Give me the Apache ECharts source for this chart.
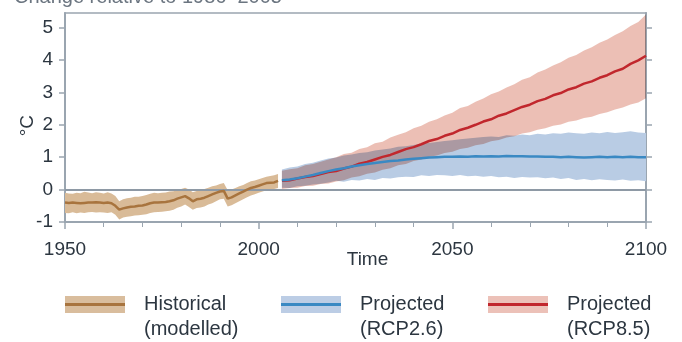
<!DOCTYPE html>
<html><head><meta charset="utf-8">
<script src="https://cdn.jsdelivr.net/npm/echarts@6/dist/echarts.min.js"></script>
<style>html,body{margin:0;padding:0;background:#fff}#c{width:682px;height:342px}</style>
</head><body><div id="c"></div>
<script>
const histYears = [1950,1951,1952,1953,1954,1955,1956,1957,1958,1959,1960,1961,1962,1963,1964,1965,1966,1967,1968,1969,1970,1971,1972,1973,1974,1975,1976,1977,1978,1979,1980,1981,1982,1983,1984,1985,1986,1987,1988,1989,1990,1991,1992,1993,1994,1995,1996,1997,1998,1999,2000,2001,2002,2003,2004,2005];
const histMean = [-0.40,-0.41,-0.40,-0.41,-0.42,-0.41,-0.40,-0.40,-0.39,-0.40,-0.41,-0.40,-0.42,-0.50,-0.62,-0.58,-0.55,-0.53,-0.52,-0.50,-0.49,-0.46,-0.42,-0.40,-0.40,-0.39,-0.38,-0.36,-0.33,-0.28,-0.24,-0.20,-0.27,-0.36,-0.30,-0.28,-0.25,-0.20,-0.15,-0.10,-0.06,-0.04,-0.28,-0.24,-0.18,-0.12,-0.06,0.00,0.05,0.08,0.12,0.16,0.20,0.21,0.22,0.27];
const histHigh = [-0.10,-0.12,-0.13,-0.10,-0.11,-0.07,-0.09,-0.11,-0.08,-0.10,-0.12,-0.08,-0.12,-0.20,-0.36,-0.30,-0.27,-0.25,-0.22,-0.22,-0.20,-0.17,-0.13,-0.10,-0.11,-0.10,-0.09,-0.06,-0.05,-0.02,0.02,0.06,0.00,-0.08,-0.04,-0.02,0.02,0.06,0.10,0.13,0.17,0.20,-0.02,0.00,0.05,0.10,0.14,0.20,0.26,0.28,0.32,0.36,0.40,0.42,0.44,0.48];
const histLow = [-0.72,-0.73,-0.70,-0.73,-0.71,-0.72,-0.70,-0.69,-0.71,-0.70,-0.71,-0.72,-0.70,-0.78,-0.92,-0.86,-0.84,-0.82,-0.80,-0.79,-0.78,-0.76,-0.72,-0.70,-0.69,-0.68,-0.67,-0.65,-0.62,-0.56,-0.52,-0.46,-0.54,-0.62,-0.57,-0.55,-0.52,-0.46,-0.42,-0.36,-0.30,-0.28,-0.52,-0.48,-0.42,-0.36,-0.30,-0.24,-0.18,-0.14,-0.10,-0.06,-0.02,0.00,0.02,0.05];

const projYears = [2006,2008,2010,2012,2014,2016,2018,2020,2022,2024,2026,2028,2030,2032,2034,2036,2038,2040,2042,2044,2046,2048,2050,2052,2054,2056,2058,2060,2062,2064,2066,2068,2070,2072,2074,2076,2078,2080,2082,2084,2086,2088,2090,2092,2094,2096,2098,2100];
const rcp26Mean = [0.29,0.31,0.35,0.40,0.45,0.51,0.57,0.62,0.66,0.71,0.75,0.79,0.82,0.85,0.88,0.90,0.93,0.95,0.97,0.99,1.00,1.01,1.01,1.02,1.01,1.03,1.02,1.03,1.02,1.04,1.03,1.03,1.02,1.02,1.01,1.01,1.00,1.01,1.00,0.99,1.00,1.01,1.00,1.01,1.00,1.01,1.00,1.00];
const rcp26High = [0.62,0.68,0.71,0.79,0.83,0.90,0.96,0.99,1.05,1.08,1.13,1.15,1.21,1.24,1.27,1.32,1.34,1.38,1.42,1.44,1.47,1.50,1.52,1.55,1.58,1.60,1.62,1.64,1.62,1.68,1.66,1.70,1.68,1.72,1.70,1.74,1.72,1.76,1.74,1.72,1.76,1.74,1.78,1.75,1.77,1.80,1.76,1.75];
const rcp26Low = [0.06,0.05,0.10,0.12,0.16,0.18,0.22,0.27,0.24,0.30,0.28,0.33,0.30,0.36,0.34,0.38,0.40,0.39,0.44,0.42,0.45,0.44,0.42,0.45,0.41,0.43,0.40,0.42,0.38,0.40,0.36,0.39,0.37,0.38,0.35,0.37,0.33,0.36,0.30,0.33,0.29,0.32,0.30,0.28,0.31,0.27,0.29,0.26];
const rcp85Mean = [0.27,0.29,0.34,0.39,0.42,0.48,0.54,0.57,0.65,0.71,0.80,0.85,0.93,1.01,1.07,1.16,1.25,1.31,1.40,1.50,1.56,1.66,1.73,1.84,1.91,2.00,2.10,2.17,2.28,2.35,2.45,2.55,2.62,2.73,2.80,2.91,2.98,3.09,3.16,3.27,3.34,3.45,3.53,3.65,3.73,3.88,3.99,4.13];
const rcp85High = [0.58,0.63,0.66,0.75,0.79,0.86,0.93,1.00,1.10,1.14,1.25,1.31,1.43,1.48,1.61,1.69,1.77,1.89,1.97,2.09,2.17,2.29,2.37,2.52,2.58,2.71,2.81,2.94,3.03,3.15,3.25,3.39,3.47,3.61,3.71,3.83,3.93,4.07,4.15,4.29,4.39,4.53,4.63,4.77,4.89,5.05,5.17,5.40];
const rcp85Low = [0.02,0.05,0.06,0.11,0.12,0.17,0.19,0.25,0.29,0.37,0.41,0.49,0.53,0.61,0.66,0.75,0.79,0.88,0.93,1.01,1.05,1.13,1.17,1.25,1.29,1.37,1.41,1.49,1.53,1.61,1.65,1.73,1.77,1.85,1.89,1.97,2.01,2.09,2.13,2.21,2.25,2.33,2.39,2.47,2.53,2.63,2.69,2.82];

const xTickValues = [1950,2000,2050,2100];
const yTickValues = [-1,0,1,2,3,4,5];
const titleText = 'Change relative to 1986–2005';
const legendItems = [
  {label: 'Historical\n(modelled)', band: '#d9bd9d', line: '#a8743e'},
  {label: 'Projected\n(RCP2.6)', band: '#bccde5', line: '#3a89c3'},
  {label: 'Projected\n(RCP8.5)', band: '#ecc1b8', line: '#c1272d'}
];

const FONT = "'Liberation Sans', Arial, sans-serif";
const AX = '#9aa5b0';
const TXT = '#2c3640';

function pairs(xs, ys) { return xs.map((x, i) => [x, ys[i]]); }
function bandSeries(name, xs, lo, hi, color, blend) {
  return {
    type: 'custom', name: name, silent: true, z: 2, blendMode: blend || 'source-over',
    data: xs.map((x, i) => [x, lo[i], hi[i]]),
    encode: {x: 0, y: [1, 2]},
    renderItem: function (params, api) {
      if (params.dataIndex !== 0) return null;
      const top = [], bot = [];
      for (let i = 0; i < xs.length; i++) {
        top.push(api.coord([xs[i], hi[i]]));
        bot.push(api.coord([xs[i], lo[i]]));
      }
      return {type: 'polygon', shape: {points: top.concat(bot.reverse())},
              style: {fill: color, stroke: null}};
    }
  };
}
function meanLine(name, xs, ys, color, extra) {
  return Object.assign({type: 'line', name: name, data: pairs(xs, ys), symbol: 'none',
    lineStyle: {color: color, width: 2.5}, silent: true, z: 6}, extra || {});
}

const chart = echarts.init(document.getElementById('c'), null, {renderer: 'canvas'});

const legendGraphics = [];
const legendX = [65, 281, 488];
legendItems.forEach((it, i) => {
  const x = legendX[i];
  legendGraphics.push({type: 'rect', left: x, top: 296, shape: {width: 60, height: 17}, style: {fill: it.band}, silent: true});
  legendGraphics.push({type: 'rect', left: x, top: 303, shape: {width: 60, height: 3}, style: {fill: it.line}, silent: true});
  legendGraphics.push({type: 'text', left: x + 79, top: 292, style: {text: it.label, font: '20px ' + FONT, fill: TXT, lineHeight: 25}, silent: true});
});

chart.setOption({
  backgroundColor: '#ffffff',
  animation: false,
  textStyle: {fontFamily: FONT},
  grid: {left: 65, right: 36, top: 13, bottom: 120, show: true, borderColor: AX, borderWidth: 1.5, backgroundColor: 'transparent'},
  xAxis: {
    type: 'value', min: 1950, max: 2100, interval: 50,
    name: 'Time', nameLocation: 'middle', nameGap: 28, nameMoveOverlap: false,
    nameTextStyle: {fontSize: 19, color: TXT, fontFamily: FONT, padding: [0, 0, 0, 24]},
    axisLine: {show: true, onZero: false, lineStyle: {color: AX, width: 2}},
    axisTick: {show: true, length: 7, lineStyle: {color: AX, width: 1.5}},
    minorTick: {show: true, splitNumber: 5, length: 5, lineStyle: {color: AX, width: 1}},
    axisLabel: {fontSize: 19, color: TXT, margin: 18, fontFamily: FONT, formatter: v => String(v)},
    splitLine: {show: false}
  },
  yAxis: [{
    type: 'value', min: -1, max: 5.45, position: 'left',
    axisLine: {show: true, onZero: false, lineStyle: {color: AX, width: 2}},
    axisTick: {show: true, length: 6, customValues: yTickValues, lineStyle: {color: AX, width: 1.5}},
    axisLabel: {fontSize: 19, color: TXT, margin: 12, fontFamily: FONT, customValues: yTickValues, formatter: v => String(v)},
    splitLine: {show: false}
  }, {
    type: 'value', min: -1, max: 5.45, position: 'right',
    axisLine: {show: true, onZero: false, lineStyle: {color: AX, width: 2}},
    axisTick: {show: true, length: 6, customValues: yTickValues, lineStyle: {color: AX, width: 1.5}},
    axisLabel: {show: false},
    splitLine: {show: false}
  }],
  graphic: [
    {type: 'text', left: 14, top: -13, style: {text: titleText, font: '20px ' + FONT, fill: '#6b7580'}, silent: true},
    {type: 'text', left: 18, top: 115, rotation: Math.PI / 2, style: {text: '°C', font: '19px ' + FONT, fill: TXT}, silent: true},
    ...legendGraphics
  ],
  series: [
    bandSeries('hist-range', histYears, histLow, histHigh, '#d9bb98'),
    bandSeries('rcp26-range', projYears, rcp26Low, rcp26High, '#b9cce4'),
    bandSeries('rcp85-range', projYears, rcp85Low, rcp85High, '#ecbfb5', 'multiply'),
    meanLine('Historical (modelled)', histYears, histMean, '#a8743e', {
      markLine: {silent: true, symbol: 'none', z: 4, label: {show: false},
        lineStyle: {color: '#8e99a5', width: 2, type: 'solid'}, emphasis: {disabled: true},
        data: [{yAxis: 0}]}
    }),
    meanLine('Projected (RCP8.5)', projYears, rcp85Mean, '#c1272d'),
    meanLine('Projected (RCP2.6)', projYears, rcp26Mean, '#3a89c3')
  ]
});
</script>
</body></html>
